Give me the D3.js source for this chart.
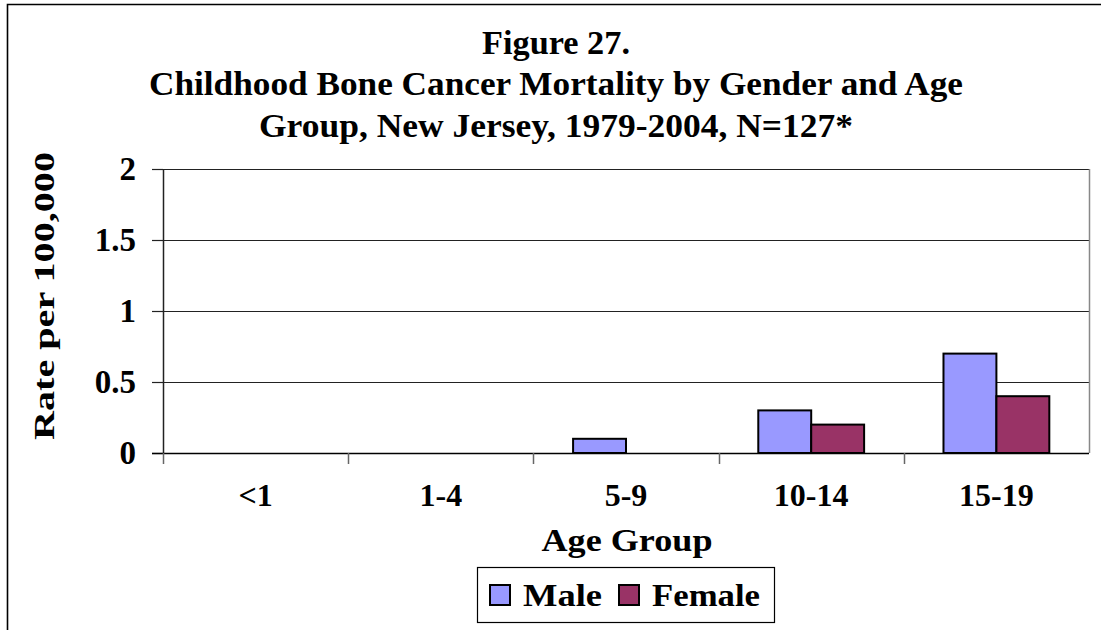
<!DOCTYPE html>
<html>
<head>
<meta charset="utf-8">
<script src="https://cdn.jsdelivr.net/npm/d3@7"></script>
<style>
  body { margin: 0; background: #fff; }
  text { font-family: "Liberation Serif", "Times New Roman", serif; font-weight: bold; fill: #000; }
</style>
</head>
<body>
<div id="chart"></div>
<script>
var ageGroups = ["<1", "1-4", "5-9", "10-14", "15-19"];
var seriesNames = ["Male", "Female"];
var maleRates = [0, 0, 0.1, 0.3, 0.7];
var femaleRates = [0, 0, 0, 0.2, 0.4];
var yTicks = [0, 0.5, 1, 1.5, 2];
var titleLines = ["Figure 27.",
                  "Childhood Bone Cancer Mortality by Gender and Age",
                  "Group, New Jersey, 1979-2004, N=127*"];

var colors = {"Male": "#9999ff", "Female": "#993366"};

var w = 1101, h = 630;
var plotLeft = 163, plotRight = 1089, plotTop = 169, plotBottom = 453;

var svg = d3.select("#chart").append("svg")
    .attr("width", w)
    .attr("height", h);

svg.append("rect").attr("width", w).attr("height", h).style("fill", "white");

// outer frame (only top and left edges are visible)
svg.append("path")
    .attr("d", "M7.5," + h + "V4.5H" + w)
    .style("fill", "none")
    .style("stroke", "#000")
    .style("stroke-width", 1.6);

// title
var titleY = [54, 95, 137];
var titleLen = [148, 814, 594];
svg.selectAll(".title")
    .data(titleLines)
    .enter().append("text")
    .attr("class", "title")
    .attr("x", 556)
    .attr("y", function(d, i) { return titleY[i]; })
    .attr("text-anchor", "middle")
    .attr("textLength", function(d, i) { return titleLen[i]; })
    .attr("lengthAdjust", "spacingAndGlyphs")
    .style("font-size", "33px")
    .text(function(d) { return d; });

var x0 = d3.scaleBand().domain(ageGroups).range([plotLeft, plotRight]).padding(0);
var x1 = d3.scaleBand().domain(seriesNames).range([0, x0.bandwidth()])
    .paddingInner(0).paddingOuter(0.75);
var y = d3.scaleLinear().domain([0, 2]).range([plotBottom, plotTop]);

// gridlines
svg.append("g")
    .selectAll("line")
    .data(yTicks.filter(function(d) { return d > 0; }))
    .enter().append("line")
    .attr("x1", plotLeft).attr("x2", plotRight)
    .attr("y1", function(d) { return Math.round(y(d)) + 0.5; })
    .attr("y2", function(d) { return Math.round(y(d)) + 0.5; })
    .style("stroke", "#222")
    .style("stroke-width", 1.2);

// right border of plot
svg.append("line")
    .attr("x1", plotRight + 0.5).attr("x2", plotRight + 0.5)
    .attr("y1", plotTop).attr("y2", plotBottom)
    .style("stroke", "#888")
    .style("stroke-width", 1.5);

// bars
var rows = ageGroups.map(function(g, i) {
    return {group: g, values: [{key: "Male", v: maleRates[i]}, {key: "Female", v: femaleRates[i]}]};
});

svg.append("g")
    .selectAll("g")
    .data(rows)
    .enter().append("g")
    .attr("transform", function(d) { return "translate(" + x0(d.group) + ",0)"; })
    .selectAll("rect")
    .data(function(d) { return d.values.filter(function(e) { return e.v > 0; }); })
    .enter().append("rect")
    .attr("x", function(d) { return x1(d.key); })
    .attr("width", x1.bandwidth())
    .attr("y", function(d) { return y(d.v); })
    .attr("height", function(d) { return y(0) - y(d.v); })
    .style("fill", function(d) { return colors[d.key]; })
    .style("stroke", "#000")
    .style("stroke-width", 2);

// y axis
var yAxis = d3.axisLeft(y).tickValues(yTicks).tickSize(11).tickPadding(16)
    .tickFormat(function(d) { return d; });
var gy = svg.append("g")
    .attr("transform", "translate(" + plotLeft + ",0)")
    .call(yAxis);
gy.select(".domain").remove();
gy.append("line").attr("x1", 0.5).attr("x2", 0.5).attr("y1", plotTop).attr("y2", plotBottom + 1)
    .style("stroke", "#222").style("stroke-width", 1.5);
gy.selectAll(".tick line").style("stroke", "#222").style("stroke-width", 1.2);
gy.selectAll(".tick text")
    .style("font-size", "33px")
    .style("font-family", "Liberation Serif")
    .style("font-weight", "bold")
    .attr("fill", "#000");

// x axis
var xAxis = d3.axisBottom(x0).tickSize(0).tickPadding(30);
var gx = svg.append("g")
    .attr("transform", "translate(0," + plotBottom + ")")
    .call(xAxis);
gx.select(".domain").remove();
gx.append("line").attr("x1", plotLeft - 11).attr("x2", plotRight).attr("y1", 0.5).attr("y2", 0.5)
    .style("stroke", "#000").style("stroke-width", 1.5);
gx.selectAll(".tick text")
    .style("font-size", "32px")
    .style("font-family", "Liberation Serif")
    .style("font-weight", "bold")
    .attr("fill", "#000");
// category separator ticks
gx.append("g").selectAll("line")
    .data(ageGroups)
    .enter().append("line")
    .attr("x1", function(d) { return Math.round(x0(d)) + 0.5; })
    .attr("x2", function(d) { return Math.round(x0(d)) + 0.5; })
    .attr("y1", 0).attr("y2", 11)
    .style("stroke", "#666")
    .style("stroke-width", 1.5);

// axis titles
svg.append("text")
    .attr("transform", "translate(54,296) rotate(-90)")
    .attr("text-anchor", "middle")
    .attr("textLength", 288)
    .attr("lengthAdjust", "spacingAndGlyphs")
    .style("font-size", "30px")
    .text("Rate per 100,000");

svg.append("text")
    .attr("x", 627)
    .attr("y", 551)
    .attr("text-anchor", "middle")
    .attr("textLength", 171)
    .attr("lengthAdjust", "spacingAndGlyphs")
    .style("font-size", "32px")
    .text("Age Group");

// legend
var legend = svg.append("g");
legend.append("rect")
    .attr("x", 477.5).attr("y", 567.5)
    .attr("width", 297).attr("height", 55)
    .style("fill", "white")
    .style("stroke", "#000")
    .style("stroke-width", 1.2);

var legendX = [490, 619];
var legendLen = [79, 108];
var legendItems = legend.selectAll(".item")
    .data(seriesNames)
    .enter().append("g")
    .attr("transform", function(d, i) { return "translate(" + legendX[i] + ",585)"; });
legendItems.append("rect")
    .attr("width", 20).attr("height", 20)
    .style("fill", function(d) { return colors[d]; })
    .style("stroke", "#000")
    .style("stroke-width", 2);
legendItems.append("text")
    .attr("x", 33)
    .attr("y", 21)
    .attr("textLength", function(d, i) { return legendLen[i]; })
    .attr("lengthAdjust", "spacingAndGlyphs")
    .style("font-size", "32px")
    .text(function(d) { return d; });
</script>
</body>
</html>
